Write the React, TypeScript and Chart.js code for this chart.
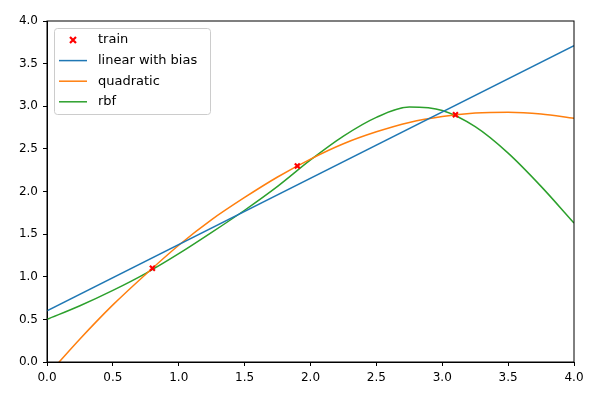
import { useEffect, useRef } from 'react'
import { Chart, registerables } from 'chart.js'
Chart.register(...registerables)

const trainX = [0.8, 1.9, 3.1]
const trainY = [1.1, 2.3, 2.9]
const linearX = [0, 4]
const linearY = [0.6, 3.71]
const curveX = [0, 0.25, 0.5, 0.75, 1.0, 1.25, 1.5, 1.75, 2.0, 2.25, 2.5, 2.75, 3.0, 3.25, 3.5, 3.75, 4.0]
const quadY = [-0.16, 0.27, 0.67, 1.03, 1.37, 1.67, 1.93, 2.17, 2.38, 2.56, 2.7, 2.81, 2.88, 2.92, 2.93, 2.91, 2.86]
const rbfY = [0.5, 0.66, 0.84, 1.04, 1.27, 1.52, 1.78, 2.06, 2.37, 2.65, 2.87, 2.99, 2.95, 2.76, 2.45, 2.06, 1.63]
const labels = ['train', 'linear with bias', 'quadratic', 'rbf']
const colors = ['red', '#1f77b4', '#ff7f0e', '#2ca02c']

const pts = (xs: number[], ys: number[]) => xs.map((x, i) => ({ x, y: ys[i] }))
const FONT = '"DejaVu Sans", sans-serif'

const legendPlugin = {
    id: 'mplLegend',
    afterDraw(chart: Chart) {
        const ctx = chart.ctx
        ctx.save()
        ctx.fillStyle = 'rgba(255,255,255,0.8)'
        ctx.strokeStyle = '#cccccc'
        ctx.lineWidth = 1
        ctx.beginPath()
        ctx.roundRect(54.5, 28.5, 156, 86, 3)
        ctx.fill()
        ctx.stroke()
        ctx.font = `13px ${FONT}`
        ctx.textBaseline = 'middle'
        labels.forEach((lab, i) => {
            const y = 40 + i * 20.6
            if (i === 0) {
                ctx.strokeStyle = 'red'
                ctx.lineWidth = 2.2
                ctx.beginPath()
                ctx.moveTo(70, y - 3); ctx.lineTo(76, y + 3)
                ctx.moveTo(76, y - 3); ctx.lineTo(70, y + 3)
                ctx.stroke()
            } else {
                ctx.strokeStyle = colors[i]
                ctx.lineWidth = 1.5
                ctx.beginPath()
                ctx.moveTo(59, y); ctx.lineTo(87, y)
                ctx.stroke()
            }
            ctx.fillStyle = '#000'
            ctx.fillText(lab, 98, y)
        })
        ctx.restore()
    },
}

export default function App() {
    const canvasRef = useRef<HTMLCanvasElement>(null)

    useEffect(() => {
        document.body.style.margin = '0'
        if (!canvasRef.current) return
        const tickOpts = { color: '#000', font: { family: FONT, size: 12 }, padding: 5 }
        const grid = { drawOnChartArea: false, color: '#000', tickLength: 4, tickColor: '#000' }
        const chart = new Chart(canvasRef.current, {
            type: 'scatter',
            data: {
                datasets: [
                    { data: pts(trainX, trainY), pointStyle: 'crossRot', radius: 3.5, borderWidth: 2.2, borderColor: 'red', backgroundColor: 'red', showLine: false },
                    { data: pts(linearX, linearY), showLine: true, borderColor: colors[1], borderWidth: 1.5, pointRadius: 0 },
                    { data: pts(curveX, quadY), showLine: true, borderColor: colors[2], borderWidth: 1.5, pointRadius: 0, cubicInterpolationMode: 'monotone' },
                    { data: pts(curveX, rbfY), showLine: true, borderColor: colors[3], borderWidth: 1.5, pointRadius: 0, cubicInterpolationMode: 'monotone' },
                ],
            },
            options: {
                responsive: false,
                animation: false,
                layout: { padding: { left: 0, top: 21, right: 26, bottom: 0 } },
                plugins: { legend: { display: false }, tooltip: { enabled: false } },
                scales: {
                    x: {
                        type: 'linear', min: 0, max: 4,
                        ticks: { ...tickOpts, stepSize: 0.5, callback: (v: any) => Number(v).toFixed(1) },
                        grid, border: { color: '#000', width: 1 },
                        afterFit: (s: any) => { s.height = 38 },
                    },
                    y: {
                        min: 0, max: 4,
                        ticks: { ...tickOpts, stepSize: 0.5, callback: (v: any) => Number(v).toFixed(1) },
                        grid, border: { color: '#000', width: 1 },
                        afterFit: (s: any) => { s.width = 47 },
                    },
                },
            },
            plugins: [legendPlugin, {
                id: 'frame',
                afterDatasetsDraw(c: Chart) {
                    const { left, right, top, bottom } = c.chartArea
                    c.ctx.save()
                    c.ctx.strokeStyle = '#000'
                    c.ctx.lineWidth = 1
                    c.ctx.strokeRect(left, top, right - left, bottom - top)
                    c.ctx.restore()
                },
            }],
        } as any)
        return () => chart.destroy()
    }, [])

    return <canvas ref={canvasRef} width={600} height={400} style={{ display: 'block' }} />
}
